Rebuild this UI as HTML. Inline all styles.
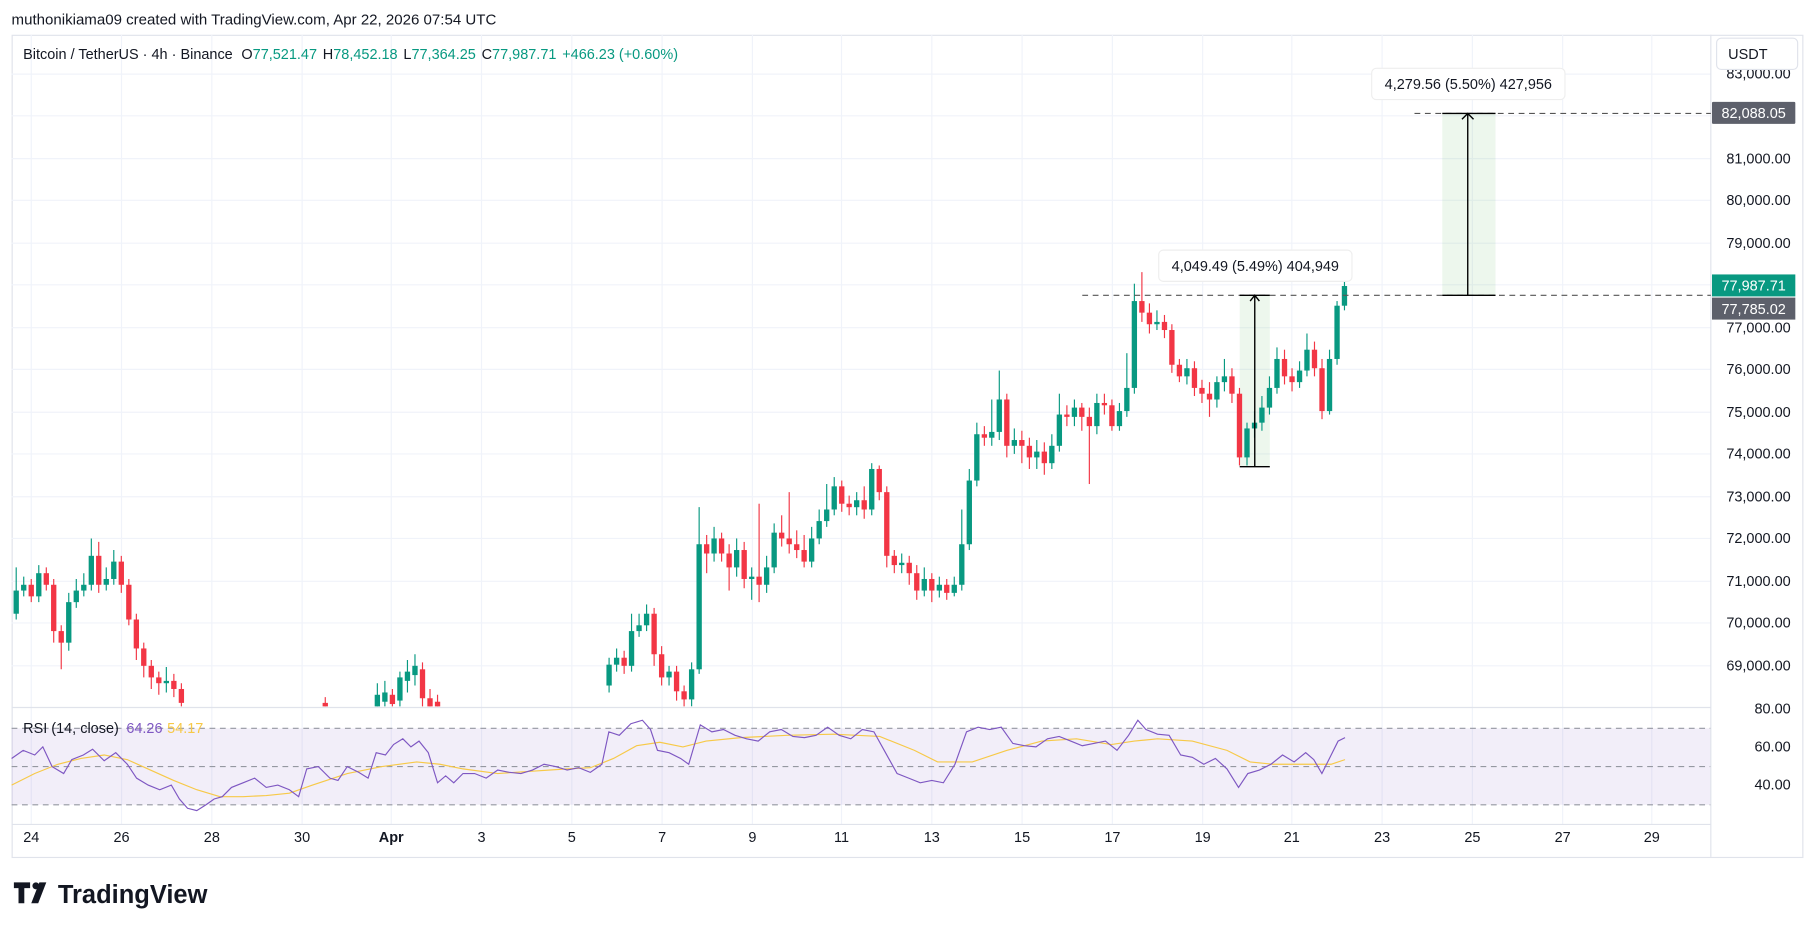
<!DOCTYPE html>
<html><head><meta charset="utf-8"><style>
html,body{margin:0;padding:0;background:#fff;}
svg{display:block;}
text{font-family:"Liberation Sans",sans-serif;}
.g{fill:#089981}.r{fill:#f23645}
.wg{stroke:#089981}.wr{stroke:#f23645}
</style></head><body>
<svg width="1815" height="931" viewBox="0 0 1568 804" preserveAspectRatio="none" xmlns="http://www.w3.org/2000/svg">
<rect width="1568" height="804" fill="#fff"/>
<text x="10" y="21" font-size="13" fill="#131722">muthonikiama09 created with TradingView.com, Apr 22, 2026 07:54 UTC</text>
<rect x="10.5" y="30.5" width="1547" height="710" fill="#fff" stroke="#e0e3eb"/>
<g stroke="#f0f3fa" stroke-width="1">
<line x1="10" y1="64" x2="1478" y2="64"/><line x1="10" y1="100" x2="1478" y2="100"/><line x1="10" y1="137" x2="1478" y2="137"/><line x1="10" y1="173" x2="1478" y2="173"/><line x1="10" y1="210" x2="1478" y2="210"/><line x1="10" y1="246" x2="1478" y2="246"/><line x1="10" y1="283" x2="1478" y2="283"/><line x1="10" y1="319" x2="1478" y2="319"/><line x1="10" y1="356" x2="1478" y2="356"/><line x1="10" y1="392" x2="1478" y2="392"/><line x1="10" y1="429" x2="1478" y2="429"/><line x1="10" y1="465" x2="1478" y2="465"/><line x1="10" y1="502" x2="1478" y2="502"/><line x1="10" y1="538" x2="1478" y2="538"/><line x1="10" y1="575" x2="1478" y2="575"/>
<line x1="27" y1="30" x2="27" y2="712"/><line x1="105" y1="30" x2="105" y2="712"/><line x1="183" y1="30" x2="183" y2="712"/><line x1="261" y1="30" x2="261" y2="712"/><line x1="338" y1="30" x2="338" y2="712"/><line x1="416" y1="30" x2="416" y2="712"/><line x1="494" y1="30" x2="494" y2="712"/><line x1="572" y1="30" x2="572" y2="712"/><line x1="650" y1="30" x2="650" y2="712"/><line x1="727" y1="30" x2="727" y2="712"/><line x1="805" y1="30" x2="805" y2="712"/><line x1="883" y1="30" x2="883" y2="712"/><line x1="961" y1="30" x2="961" y2="712"/><line x1="1039" y1="30" x2="1039" y2="712"/><line x1="1116" y1="30" x2="1116" y2="712"/><line x1="1194" y1="30" x2="1194" y2="712"/><line x1="1272" y1="30" x2="1272" y2="712"/><line x1="1350" y1="30" x2="1350" y2="712"/><line x1="1427" y1="30" x2="1427" y2="712"/>
</g>
<rect x="10" y="629" width="1468" height="66" fill="rgba(126,87,194,0.1)"/>
<g stroke="#9598a1" stroke-dasharray="5,4" stroke-width="1">
<line x1="10" y1="629" x2="1478" y2="629"/><line x1="10" y1="662" x2="1478" y2="662"/><line x1="10" y1="695" x2="1478" y2="695"/>
</g>
<line x1="10" y1="611" x2="1478" y2="611" stroke="#e0e3eb"/>
<line x1="10" y1="712" x2="1478" y2="712" stroke="#e0e3eb"/>
<line x1="1478" y1="30" x2="1478" y2="740" stroke="#e0e3eb"/>
<clipPath id="pc"><rect x="10" y="30" width="1468" height="580"/></clipPath>
<rect x="1071" y="255" width="26" height="148" fill="rgba(76,175,80,0.1)"/>
<rect x="1246" y="98" width="46" height="157" fill="rgba(76,175,80,0.1)"/>
<g clip-path="url(#pc)" stroke-width="1">
<!-- candles: wick line + body -->
<line class="wg" x1="14" y1="490" x2="14" y2="535"/><rect class="g" x="11.7" y="510" width="4.6" height="20"/>
<line class="wg" x1="20.5" y1="498" x2="20.5" y2="515"/><rect class="g" x="18.2" y="505" width="4.6" height="5"/>
<line class="wr" x1="27" y1="500" x2="27" y2="520"/><rect class="r" x="24.7" y="505" width="4.6" height="10"/>
<line class="wg" x1="33.5" y1="488" x2="33.5" y2="520"/><rect class="g" x="31.2" y="495" width="4.6" height="20"/>
<line class="wr" x1="40" y1="490" x2="40" y2="510"/><rect class="r" x="37.7" y="495" width="4.6" height="10"/>
<line class="wr" x1="46.4" y1="500" x2="46.4" y2="555"/><rect class="r" x="44.1" y="505" width="4.6" height="40"/>
<line class="wr" x1="52.9" y1="540" x2="52.9" y2="578"/><rect class="r" x="50.6" y="545" width="4.6" height="10"/>
<line class="wg" x1="59.4" y1="512" x2="59.4" y2="562"/><rect class="g" x="57.1" y="520" width="4.6" height="35"/>
<line class="wg" x1="65.9" y1="500" x2="65.9" y2="525"/><rect class="g" x="63.6" y="510" width="4.6" height="10"/>
<line class="wg" x1="72.4" y1="495" x2="72.4" y2="515"/><rect class="g" x="70.1" y="505" width="4.6" height="5"/>
<line class="wg" x1="78.9" y1="465" x2="78.9" y2="510"/><rect class="g" x="76.6" y="480" width="4.6" height="25"/>
<line class="wr" x1="85.3" y1="468" x2="85.3" y2="512"/><rect class="r" x="83" y="480" width="4.6" height="25"/>
<line class="wg" x1="91.8" y1="490" x2="91.8" y2="510"/><rect class="g" x="89.5" y="500" width="4.6" height="5"/>
<line class="wg" x1="98.3" y1="475" x2="98.3" y2="505"/><rect class="g" x="96" y="485" width="4.6" height="15"/>
<line class="wr" x1="104.8" y1="480" x2="104.8" y2="512"/><rect class="r" x="102.5" y="485" width="4.6" height="20"/>
<line class="wr" x1="111.3" y1="500" x2="111.3" y2="540"/><rect class="r" x="109" y="505" width="4.6" height="30"/>
<line class="wr" x1="117.8" y1="530" x2="117.8" y2="570"/><rect class="r" x="115.5" y="535" width="4.6" height="25"/>
<line class="wr" x1="124.2" y1="555" x2="124.2" y2="585"/><rect class="r" x="121.9" y="560" width="4.6" height="15"/>
<line class="wr" x1="130.7" y1="570" x2="130.7" y2="595"/><rect class="r" x="128.4" y="575" width="4.6" height="10"/>
<line class="wr" x1="137.2" y1="580" x2="137.2" y2="600"/><rect class="r" x="134.9" y="585" width="4.6" height="5"/>
<line class="wg" x1="143.7" y1="576" x2="143.7" y2="598"/><rect class="g" x="141.4" y="588" width="4.6" height="2"/>
<line class="wr" x1="150.2" y1="582" x2="150.2" y2="602"/><rect class="r" x="147.9" y="588" width="4.6" height="7"/>
<line class="wr" x1="156.7" y1="590" x2="156.7" y2="615"/><rect class="r" x="154.4" y="595" width="4.6" height="12"/>
<line class="wr" x1="281" y1="602" x2="281" y2="615"/><rect class="r" x="278.7" y="607" width="4.6" height="6"/>
<line class="wg" x1="326" y1="590" x2="326" y2="615"/><rect class="g" x="323.7" y="600" width="4.6" height="12"/>
<line class="wg" x1="332.5" y1="588" x2="332.5" y2="612"/><rect class="g" x="330.2" y="598" width="4.6" height="8"/>
<line class="wr" x1="339" y1="595" x2="339" y2="615"/><rect class="r" x="336.7" y="600" width="4.6" height="8"/>
<line class="wg" x1="345.5" y1="580" x2="345.5" y2="612"/><rect class="g" x="343.2" y="585" width="4.6" height="20"/>
<line class="wg" x1="352" y1="570" x2="352" y2="598"/><rect class="g" x="349.7" y="580" width="4.6" height="8"/>
<line class="wg" x1="358.5" y1="565" x2="358.5" y2="592"/><rect class="g" x="356.2" y="575" width="4.6" height="8"/>
<line class="wr" x1="365" y1="572" x2="365" y2="612"/><rect class="r" x="362.7" y="578" width="4.6" height="25"/>
<line class="wr" x1="371.5" y1="595" x2="371.5" y2="615"/><rect class="r" x="369.2" y="603" width="4.6" height="8"/>
<line class="wr" x1="378" y1="600" x2="378" y2="615"/><rect class="r" x="375.7" y="606" width="4.6" height="6"/>
<line class="wg" x1="526.2" y1="568" x2="526.2" y2="598"/><rect class="g" x="523.9" y="574" width="4.6" height="18"/>
<line class="wg" x1="532.7" y1="560" x2="532.7" y2="580"/><rect class="g" x="530.4" y="568" width="4.6" height="6"/>
<line class="wr" x1="539.2" y1="562" x2="539.2" y2="582"/><rect class="r" x="536.9" y="568" width="4.6" height="7"/>
<line class="wg" x1="545.6" y1="530" x2="545.6" y2="580"/><rect class="g" x="543.3" y="545" width="4.6" height="30"/>
<line class="wg" x1="552.1" y1="530" x2="552.1" y2="550"/><rect class="g" x="549.8" y="540" width="4.6" height="5"/>
<line class="wg" x1="558.6" y1="522" x2="558.6" y2="545"/><rect class="g" x="556.3" y="530" width="4.6" height="10"/>
<line class="wr" x1="565.1" y1="525" x2="565.1" y2="575"/><rect class="r" x="562.8" y="530" width="4.6" height="35"/>
<line class="wr" x1="571.6" y1="558" x2="571.6" y2="592"/><rect class="r" x="569.3" y="565" width="4.6" height="20"/>
<line class="wg" x1="578" y1="575" x2="578" y2="592"/><rect class="g" x="575.7" y="580" width="4.6" height="5"/>
<line class="wr" x1="584.5" y1="575" x2="584.5" y2="605"/><rect class="r" x="582.2" y="580" width="4.6" height="17"/>
<line class="wr" x1="591" y1="592" x2="591" y2="612"/><rect class="r" x="588.7" y="597" width="4.6" height="7"/>
<line class="wg" x1="597.5" y1="572" x2="597.5" y2="610"/><rect class="g" x="595.2" y="578" width="4.6" height="26"/>
<line class="wg" x1="604" y1="438" x2="604" y2="582"/><rect class="g" x="601.7" y="470" width="4.6" height="108"/>
<line class="wr" x1="610.5" y1="462" x2="610.5" y2="495"/><rect class="r" x="608.2" y="470" width="4.6" height="8"/>
<line class="wg" x1="616.9" y1="455" x2="616.9" y2="485"/><rect class="g" x="614.6" y="465" width="4.6" height="13"/>
<line class="wr" x1="623.4" y1="460" x2="623.4" y2="485"/><rect class="r" x="621.1" y="465" width="4.6" height="13"/>
<line class="wr" x1="629.9" y1="470" x2="629.9" y2="510"/><rect class="r" x="627.6" y="478" width="4.6" height="12"/>
<line class="wg" x1="636.4" y1="465" x2="636.4" y2="498"/><rect class="g" x="634.1" y="475" width="4.6" height="15"/>
<line class="wr" x1="642.9" y1="468" x2="642.9" y2="508"/><rect class="r" x="640.6" y="475" width="4.6" height="25"/>
<line class="wg" x1="649.4" y1="490" x2="649.4" y2="518"/><rect class="g" x="647.1" y="498" width="4.6" height="2"/>
<line class="wr" x1="655.8" y1="435" x2="655.8" y2="520"/><rect class="r" x="653.5" y="498" width="4.6" height="7"/>
<line class="wg" x1="662.3" y1="480" x2="662.3" y2="512"/><rect class="g" x="660" y="490" width="4.6" height="15"/>
<line class="wg" x1="668.8" y1="452" x2="668.8" y2="495"/><rect class="g" x="666.5" y="460" width="4.6" height="30"/>
<line class="wr" x1="675.3" y1="445" x2="675.3" y2="472"/><rect class="r" x="673" y="460" width="4.6" height="5"/>
<line class="wr" x1="681.8" y1="425" x2="681.8" y2="478"/><rect class="r" x="679.5" y="465" width="4.6" height="5"/>
<line class="wr" x1="688.3" y1="458" x2="688.3" y2="482"/><rect class="r" x="686" y="470" width="4.6" height="5"/>
<line class="wr" x1="694.7" y1="462" x2="694.7" y2="490"/><rect class="r" x="692.4" y="475" width="4.6" height="10"/>
<line class="wg" x1="701.2" y1="455" x2="701.2" y2="490"/><rect class="g" x="698.9" y="465" width="4.6" height="20"/>
<line class="wg" x1="707.7" y1="440" x2="707.7" y2="470"/><rect class="g" x="705.4" y="450" width="4.6" height="15"/>
<line class="wg" x1="714.2" y1="418" x2="714.2" y2="455"/><rect class="g" x="711.9" y="440" width="4.6" height="10"/>
<line class="wg" x1="720.7" y1="412" x2="720.7" y2="445"/><rect class="g" x="718.4" y="420" width="4.6" height="20"/>
<line class="wr" x1="727.2" y1="415" x2="727.2" y2="442"/><rect class="r" x="724.9" y="420" width="4.6" height="15"/>
<line class="wr" x1="733.6" y1="428" x2="733.6" y2="445"/><rect class="r" x="731.3" y="435" width="4.6" height="3"/>
<line class="wg" x1="740.1" y1="425" x2="740.1" y2="445"/><rect class="g" x="737.8" y="432" width="4.6" height="6"/>
<line class="wr" x1="746.6" y1="420" x2="746.6" y2="448"/><rect class="r" x="744.3" y="432" width="4.6" height="8"/>
<line class="wg" x1="753.1" y1="400" x2="753.1" y2="445"/><rect class="g" x="750.8" y="405" width="4.6" height="35"/>
<line class="wr" x1="759.6" y1="402" x2="759.6" y2="432"/><rect class="r" x="757.3" y="405" width="4.6" height="20"/>
<line class="wr" x1="766.1" y1="420" x2="766.1" y2="490"/><rect class="r" x="763.8" y="425" width="4.6" height="55"/>
<line class="wr" x1="772.6" y1="475" x2="772.6" y2="495"/><rect class="r" x="770.3" y="480" width="4.6" height="8"/>
<line class="wg" x1="779" y1="478" x2="779" y2="495"/><rect class="g" x="776.7" y="486" width="4.6" height="2"/>
<line class="wr" x1="785.5" y1="480" x2="785.5" y2="505"/><rect class="r" x="783.2" y="486" width="4.6" height="9"/>
<line class="wr" x1="792" y1="488" x2="792" y2="518"/><rect class="r" x="789.7" y="495" width="4.6" height="15"/>
<line class="wg" x1="798.5" y1="490" x2="798.5" y2="515"/><rect class="g" x="796.2" y="500" width="4.6" height="10"/>
<line class="wr" x1="805" y1="495" x2="805" y2="520"/><rect class="r" x="802.7" y="500" width="4.6" height="10"/>
<line class="wg" x1="811.5" y1="498" x2="811.5" y2="516"/><rect class="g" x="809.2" y="505" width="4.6" height="5"/>
<line class="wr" x1="817.9" y1="500" x2="817.9" y2="518"/><rect class="r" x="815.6" y="505" width="4.6" height="7"/>
<line class="wg" x1="824.4" y1="498" x2="824.4" y2="515"/><rect class="g" x="822.1" y="505" width="4.6" height="7"/>
<line class="wg" x1="830.9" y1="440" x2="830.9" y2="510"/><rect class="g" x="828.6" y="470" width="4.6" height="35"/>
<line class="wg" x1="837.4" y1="405" x2="837.4" y2="475"/><rect class="g" x="835.1" y="415" width="4.6" height="55"/>
<line class="wg" x1="843.9" y1="365" x2="843.9" y2="420"/><rect class="g" x="841.6" y="375" width="4.6" height="40"/>
<line class="wr" x1="850.4" y1="368" x2="850.4" y2="385"/><rect class="r" x="848.1" y="375" width="4.6" height="3"/>
<line class="wg" x1="856.8" y1="345" x2="856.8" y2="385"/><rect class="g" x="854.5" y="373" width="4.6" height="5"/>
<line class="wg" x1="863.3" y1="320" x2="863.3" y2="380"/><rect class="g" x="861" y="345" width="4.6" height="28"/>
<line class="wr" x1="869.8" y1="340" x2="869.8" y2="395"/><rect class="r" x="867.5" y="345" width="4.6" height="40"/>
<line class="wg" x1="876.3" y1="370" x2="876.3" y2="392"/><rect class="g" x="874" y="380" width="4.6" height="5"/>
<line class="wr" x1="882.8" y1="372" x2="882.8" y2="400"/><rect class="r" x="880.5" y="380" width="4.6" height="5"/>
<line class="wr" x1="889.3" y1="378" x2="889.3" y2="405"/><rect class="r" x="887" y="385" width="4.6" height="10"/>
<line class="wg" x1="895.7" y1="380" x2="895.7" y2="405"/><rect class="g" x="893.4" y="390" width="4.6" height="5"/>
<line class="wr" x1="902.2" y1="382" x2="902.2" y2="410"/><rect class="r" x="899.9" y="390" width="4.6" height="10"/>
<line class="wg" x1="908.7" y1="375" x2="908.7" y2="405"/><rect class="g" x="906.4" y="385" width="4.6" height="15"/>
<line class="wg" x1="915.2" y1="340" x2="915.2" y2="390"/><rect class="g" x="912.9" y="358" width="4.6" height="27"/>
<line class="wr" x1="921.7" y1="350" x2="921.7" y2="368"/><rect class="r" x="919.4" y="358" width="4.6" height="2"/>
<line class="wg" x1="928.2" y1="345" x2="928.2" y2="368"/><rect class="g" x="925.9" y="352" width="4.6" height="8"/>
<line class="wr" x1="934.6" y1="348" x2="934.6" y2="372"/><rect class="r" x="932.3" y="352" width="4.6" height="8"/>
<line class="wr" x1="941.1" y1="352" x2="941.1" y2="418"/><rect class="r" x="938.8" y="360" width="4.6" height="8"/>
<line class="wg" x1="947.6" y1="340" x2="947.6" y2="375"/><rect class="g" x="945.3" y="348" width="4.6" height="20"/>
<line class="wr" x1="954.1" y1="340" x2="954.1" y2="358"/><rect class="r" x="951.8" y="348" width="4.6" height="2"/>
<line class="wr" x1="960.6" y1="345" x2="960.6" y2="372"/><rect class="r" x="958.3" y="350" width="4.6" height="18"/>
<line class="wg" x1="967.1" y1="348" x2="967.1" y2="372"/><rect class="g" x="964.8" y="355" width="4.6" height="13"/>
<line class="wg" x1="973.5" y1="305" x2="973.5" y2="360"/><rect class="g" x="971.2" y="335" width="4.6" height="20"/>
<line class="wg" x1="980" y1="245" x2="980" y2="340"/><rect class="g" x="977.7" y="260" width="4.6" height="75"/>
<line class="wr" x1="986.5" y1="235" x2="986.5" y2="278"/><rect class="r" x="984.2" y="260" width="4.6" height="10"/>
<line class="wr" x1="993" y1="262" x2="993" y2="288"/><rect class="r" x="990.7" y="270" width="4.6" height="10"/>
<line class="wg" x1="999.5" y1="268" x2="999.5" y2="285"/><rect class="g" x="997.2" y="278" width="4.6" height="2"/>
<line class="wr" x1="1006" y1="272" x2="1006" y2="292"/><rect class="r" x="1003.7" y="278" width="4.6" height="7"/>
<line class="wr" x1="1012.4" y1="280" x2="1012.4" y2="322"/><rect class="r" x="1010.1" y="285" width="4.6" height="30"/>
<line class="wr" x1="1018.9" y1="310" x2="1018.9" y2="330"/><rect class="r" x="1016.6" y="315" width="4.6" height="10"/>
<line class="wg" x1="1025.4" y1="310" x2="1025.4" y2="332"/><rect class="g" x="1023.1" y="318" width="4.6" height="7"/>
<line class="wr" x1="1031.9" y1="312" x2="1031.9" y2="342"/><rect class="r" x="1029.6" y="318" width="4.6" height="17"/>
<line class="wr" x1="1038.4" y1="328" x2="1038.4" y2="348"/><rect class="r" x="1036.1" y="335" width="4.6" height="5"/>
<line class="wr" x1="1044.9" y1="330" x2="1044.9" y2="360"/><rect class="r" x="1042.6" y="340" width="4.6" height="5"/>
<line class="wg" x1="1051.3" y1="325" x2="1051.3" y2="352"/><rect class="g" x="1049" y="330" width="4.6" height="15"/>
<line class="wg" x1="1057.8" y1="310" x2="1057.8" y2="338"/><rect class="g" x="1055.5" y="325" width="4.6" height="5"/>
<line class="wr" x1="1064.3" y1="318" x2="1064.3" y2="348"/><rect class="r" x="1062" y="325" width="4.6" height="15"/>
<line class="wr" x1="1070.8" y1="335" x2="1070.8" y2="402"/><rect class="r" x="1068.5" y="340" width="4.6" height="55"/>
<line class="wg" x1="1077.3" y1="365" x2="1077.3" y2="402"/><rect class="g" x="1075" y="370" width="4.6" height="25"/>
<line class="wg" x1="1083.8" y1="355" x2="1083.8" y2="378"/><rect class="g" x="1081.5" y="365" width="4.6" height="5"/>
<line class="wg" x1="1090.2" y1="342" x2="1090.2" y2="372"/><rect class="g" x="1087.9" y="352" width="4.6" height="13"/>
<line class="wg" x1="1096.7" y1="325" x2="1096.7" y2="358"/><rect class="g" x="1094.4" y="335" width="4.6" height="17"/>
<line class="wg" x1="1103.2" y1="300" x2="1103.2" y2="340"/><rect class="g" x="1100.9" y="310" width="4.6" height="25"/>
<line class="wr" x1="1109.7" y1="302" x2="1109.7" y2="332"/><rect class="r" x="1107.4" y="310" width="4.6" height="15"/>
<line class="wr" x1="1116.2" y1="318" x2="1116.2" y2="338"/><rect class="r" x="1113.9" y="325" width="4.6" height="5"/>
<line class="wg" x1="1122.7" y1="312" x2="1122.7" y2="335"/><rect class="g" x="1120.4" y="320" width="4.6" height="10"/>
<line class="wg" x1="1129.1" y1="288" x2="1129.1" y2="325"/><rect class="g" x="1126.8" y="302" width="4.6" height="18"/>
<line class="wr" x1="1135.6" y1="295" x2="1135.6" y2="325"/><rect class="r" x="1133.3" y="302" width="4.6" height="16"/>
<line class="wr" x1="1142.1" y1="310" x2="1142.1" y2="362"/><rect class="r" x="1139.8" y="318" width="4.6" height="37"/>
<line class="wg" x1="1148.6" y1="302" x2="1148.6" y2="358"/><rect class="g" x="1146.3" y="310" width="4.6" height="45"/>
<line class="wg" x1="1155.1" y1="260" x2="1155.1" y2="315"/><rect class="g" x="1152.8" y="264" width="4.6" height="46"/>
<line class="wg" x1="1161.5" y1="232" x2="1161.5" y2="268"/><rect class="g" x="1159.2" y="247" width="4.6" height="17"/>
</g>
<!-- RSI -->
<polyline fill="none" stroke="#f7c948" stroke-width="1" points="10,678 30,668 50,660 70,655 90,652 110,656 130,665 150,674 170,682 190,688 210,688 230,687 250,685 270,678 300,668 330,662 360,658 380,660 400,664 430,668 460,666 490,664 510,663 530,655 550,644 570,641 590,645 610,640 640,637 680,635 720,634 760,636 790,648 810,658 840,658 870,648 900,640 930,638 960,643 980,640 1000,638 1030,640 1060,648 1080,658 1100,660 1130,660 1150,660 1162,656"/>
<polyline fill="none" stroke="#7e57c2" stroke-width="1" points="10,655 20,648 30,652 37,645 45,662 55,668 62,656 72,652 80,647 90,657 100,650 110,660 118,672 128,678 138,682 148,678 155,690 162,698 170,700 178,695 185,690 192,688 200,680 210,676 220,672 230,680 240,678 250,682 258,688 265,664 275,662 285,672 292,674 300,662 310,667 318,672 325,650 333,652 340,643 348,638 355,645 362,640 370,650 378,676 385,670 392,676 400,668 410,668 420,672 430,665 440,667 450,668 460,665 470,660 480,662 490,665 500,663 510,667 520,660 526,632 535,635 545,625 555,622 562,630 568,648 578,650 588,655 595,660 605,626 615,632 625,630 635,635 645,638 655,640 665,632 675,630 685,636 695,637 705,635 715,628 725,635 735,638 745,630 755,632 765,650 775,668 785,672 795,676 805,674 815,676 825,660 835,632 845,628 855,630 865,628 875,642 885,644 895,645 905,638 915,636 925,640 935,644 945,642 955,640 965,648 975,635 983,622 990,630 1000,634 1010,635 1020,652 1030,654 1040,660 1050,655 1060,664 1070,680 1078,668 1088,665 1098,660 1108,652 1118,658 1128,650 1135,656 1142,668 1150,652 1156,640 1162,637"/>
<g stroke="#555" stroke-dasharray="5,4">
<line x1="935" y1="255" x2="1478" y2="255"/>
<line x1="1222" y1="98" x2="1478" y2="98"/>
</g>
<g stroke="#000" stroke-width="1.2" fill="none">
<line x1="1071" y1="255" x2="1097" y2="255"/><line x1="1071" y1="403" x2="1097" y2="403"/>
<line x1="1084" y1="403" x2="1084" y2="255"/><polyline points="1080,260 1084,255 1088,260"/>
<line x1="1246" y1="98" x2="1292" y2="98"/><line x1="1246" y1="255" x2="1292" y2="255"/>
<line x1="1268" y1="255" x2="1268" y2="98"/><polyline points="1263,103 1268,98 1273,103"/>
</g>
<rect x="1001" y="216" width="167" height="27" rx="4" fill="#fff" stroke="#eee"/>
<text x="1084.5" y="234" font-size="12.5" fill="#131722" text-anchor="middle">4,049.49 (5.49%) 404,949</text>
<rect x="1185" y="59" width="167" height="27" rx="4" fill="#fff" stroke="#eee"/>
<text x="1268.5" y="77" font-size="12.5" fill="#131722" text-anchor="middle">4,279.56 (5.50%) 427,956</text>
<g font-size="12.5" fill="#131722" text-anchor="end">
<text x="1547" y="68">83,000.00</text><text x="1547" y="141">81,000.00</text><text x="1547" y="177">80,000.00</text><text x="1547" y="214">79,000.00</text><text x="1547" y="287">77,000.00</text><text x="1547" y="323">76,000.00</text><text x="1547" y="360">75,000.00</text><text x="1547" y="396">74,000.00</text><text x="1547" y="433">73,000.00</text><text x="1547" y="469">72,000.00</text><text x="1547" y="506">71,000.00</text><text x="1547" y="542">70,000.00</text><text x="1547" y="579">69,000.00</text>
<text x="1547" y="616">80.00</text><text x="1547" y="649">60.00</text><text x="1547" y="682">40.00</text>
</g>
<g font-size="12.5" fill="#131722" text-anchor="middle">
<text x="27" y="727">24</text><text x="105" y="727">26</text><text x="183" y="727">28</text><text x="261" y="727">30</text><text x="338" y="727" font-weight="bold">Apr</text><text x="416" y="727">3</text><text x="494" y="727">5</text><text x="572" y="727">7</text><text x="650" y="727">9</text><text x="727" y="727">11</text><text x="805" y="727">13</text><text x="883" y="727">15</text><text x="961" y="727">17</text><text x="1039" y="727">19</text><text x="1116" y="727">21</text><text x="1194" y="727">23</text><text x="1272" y="727">25</text><text x="1350" y="727">27</text><text x="1427" y="727">29</text>
</g>
<rect x="1483" y="33" width="70" height="27" rx="4" fill="#fff" stroke="#e0e3eb"/>
<text x="1493" y="51" font-size="12.5" fill="#131722">USDT</text>
<rect x="1479" y="88" width="72" height="19" rx="1" fill="#5d606b"/>
<text x="1515" y="102" font-size="12.5" fill="#fff" text-anchor="middle">82,088.05</text>
<rect x="1479" y="237" width="72" height="19" fill="#089981"/>
<text x="1515" y="251" font-size="12.5" fill="#fff" text-anchor="middle">77,987.71</text>
<rect x="1479" y="257" width="72" height="19" fill="#5d606b"/>
<text x="1515" y="271" font-size="12.5" fill="#fff" text-anchor="middle">77,785.02</text>
<text x="20" y="51" font-size="12.5" fill="#131722">Bitcoin / TetherUS · 4h · Binance <tspan dx="4">O</tspan><tspan fill="#089981">77,521.47</tspan><tspan dx="5">H</tspan><tspan fill="#089981">78,452.18</tspan><tspan dx="5">L</tspan><tspan fill="#089981">77,364.25</tspan><tspan dx="5">C</tspan><tspan fill="#089981">77,987.71</tspan><tspan dx="5" fill="#089981">+466.23 (+0.60%)</tspan></text>
<text x="20" y="633" font-size="12.5" fill="#131722">RSI (14, close) <tspan dx="3" fill="#7e57c2">64.26</tspan><tspan dx="4" fill="#f7c948">54.17</tspan></text>
<g transform="translate(12,762)" fill="#131722">
<path d="M0 0h14v5h-5v13h-5v-13h-4z"/><circle cx="19" cy="3" r="3"/><path d="M22 0h6l-7 18h-6z"/>
<text x="38" y="18" font-size="22" font-weight="bold">TradingView</text>
</g>
</svg>
</body></html>
